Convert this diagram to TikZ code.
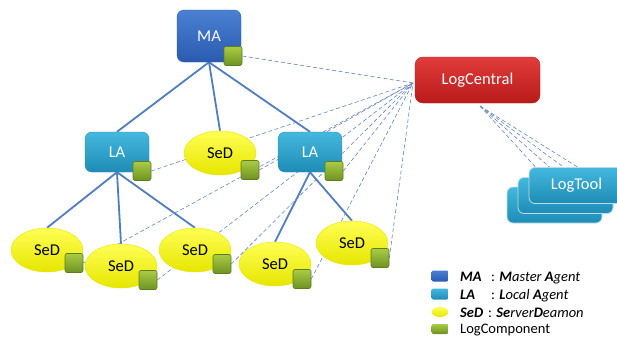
\documentclass[tikz,border=0pt]{standalone}
\usepackage{fontspec}
\setmainfont{Carlito}
\usetikzlibrary{backgrounds,calc,shapes.geometric}
\definecolor{maT}{HTML}{4A80D2}
\definecolor{maB}{HTML}{2A5BB0}
\definecolor{laT}{HTML}{44B8DE}
\definecolor{laB}{HTML}{1E8CB6}
\definecolor{sedT}{HTML}{FFFF55}
\definecolor{sedB}{HTML}{E6E600}
\definecolor{lcT}{HTML}{E23C3C}
\definecolor{lcB}{HTML}{B81A1A}
\definecolor{gT}{HTML}{AACB44}
\definecolor{gB}{HTML}{6E9222}
\definecolor{gD}{HTML}{5E7E1E}
\definecolor{treec}{HTML}{4F7DBF}
\definecolor{dashc}{HTML}{6584C4}
\begin{document}
\begin{tikzpicture}[x=1pt,y=-1pt,
  agent/.style={rectangle, rounded corners=7pt, inner sep=0pt, text=white, font=\fontsize{16.5}{16.5}\selectfont},
  maa/.style={agent, minimum width=64pt, minimum height=52pt, top color=maT, bottom color=maB, draw=maB},
  laa/.style={agent, minimum width=64pt, minimum height=40pt, top color=laT, bottom color=laB, draw=laB},
  sed/.style={ellipse, inner sep=0pt, minimum width=72pt, minimum height=44pt, top color=sedT, bottom color=sedB, draw=sedB, font=\fontsize{16.5}{16.5}\selectfont},
  logc/.style={rectangle, rounded corners=2pt, inner sep=0pt, minimum width=18pt, minimum height=19pt, top color=gT, bottom color=gB, draw=gD, line width=0.6pt},
  lcbox/.style={rectangle, rounded corners=8pt, inner sep=0pt, minimum width=125pt, minimum height=46pt, top color=lcT, bottom color=lcB, draw=lcB, text=white, font=\fontsize{16.5}{16.5}\selectfont},
  ltbox/.style={rectangle, rounded corners=6pt, inner sep=0pt, minimum width=95pt, minimum height=36pt, top color=laT, bottom color=laB, draw=white!70!laB, line width=0.8pt, text=white, font=\fontsize{16.5}{16.5}\selectfont},
  tree/.style={draw=treec, line width=1.8pt},
  logline/.style={draw=dashc, line width=0.6pt, dash pattern=on 4pt off 2.5pt},
  legtext/.style={anchor=west, inner sep=0pt, font=\fontsize{14.5}{14.5}\selectfont}
]
\clip (0,0) rectangle (617,343);

% agents
\node[maa] (MA) at (209,36) {MA};
\node[laa] (LA1) at (117,152) {LA};
\node[laa] (LA2) at (310,152) {LA};
\node[sed] (S0) at (220,153) {SeD};
\node[sed] (S1) at (47,250) {SeD};
\node[sed] (S2) at (121,266) {SeD};
\node[sed] (S3) at (195,250) {SeD};
\node[sed] (S4) at (275,264) {SeD};
\node[sed] (S5) at (352,243) {SeD};

% log components
\node[logc] (gMA) at (233,56) {};
\node[logc] (gLA1) at (142,171) {};
\node[logc] (gS0) at (250,170) {};
\node[logc] (gLA2) at (334,171) {};
\node[logc] (gS1) at (74,263) {};
\node[logc] (gS2) at (148,280) {};
\node[logc] (gS3) at (222,264) {};
\node[logc] (gS4) at (302,279) {};
\node[logc] (gS5) at (380,258) {};

% LogCentral and LogTools
\node[lcbox] (LC) at (477.5,80) {LogCentral};
\coordinate (hub) at (413,83);
\coordinate (hubB) at (480,106);
\node[ltbox] (LT3) at (554.5,205) {};
\node[ltbox] (LT2) at (565.5,195.5) {};
\node[ltbox] (LT1) at (576.5,185.5) {LogTool};

% legend
\node[rectangle, rounded corners=2pt, minimum width=17pt, minimum height=11pt, inner sep=0pt, top color=maT, bottom color=maB] (kMA) at (440,276) {};
\node[rectangle, rounded corners=2pt, minimum width=17pt, minimum height=11pt, inner sep=0pt, top color=laT, bottom color=laB] (kLA) at (440,294) {};
\node[ellipse, minimum width=17pt, minimum height=10pt, inner sep=0pt, top color=sedT, bottom color=sedB] (kSeD) at (440,312) {};
\node[rectangle, rounded corners=2pt, minimum width=17pt, minimum height=10pt, inner sep=0pt, top color=gT, bottom color=gB] (kLog) at (440,329) {};
\node[legtext] (tMA) at (460,278) {\makebox[31pt][l]{\textbf{\textit{MA}}}: \textit{\textbf{M}aster \textbf{A}gent}};
\node[legtext] (tLA) at (460,296) {\makebox[31pt][l]{\textbf{\textit{LA}}}: \textit{\textbf{L}ocal \textbf{A}gent}};
\node[legtext] (tSeD) at (460,313) {\makebox[28pt][l]{\textbf{\textit{SeD}}}: \textit{\textbf{Se}rver\textbf{D}eamon}};
\node[legtext] (tLog) at (460,330) {LogComponent};

\begin{pgfonlayer}{background}
  \fill[white] (0,0) rectangle (617,343);
  % tree
  \draw[tree] (MA.south) -- (LA1.north);
  \draw[tree] (MA.south) -- (S0.north);
  \draw[tree] (MA.south) -- (LA2.north);
  \draw[tree] (LA1.south) -- (S1.north);
  \draw[tree] (LA1.south) -- (S2.north);
  \draw[tree] (LA1.south) -- (S3.north);
  \draw[tree] (LA2.south) -- (S4.north);
  \draw[tree] (LA2.south) -- (S5.north);
  % log lines
  \draw[logline] (gMA.east) -- (hub);
  \draw[logline] (gLA1.east) -- (hub);
  \draw[logline] (gS0.east) -- (hub);
  \draw[logline] (gLA2.east) -- (hub);
  \draw[logline] (gS1.east) -- (hub);
  \draw[logline] (gS2.east) -- (hub);
  \draw[logline] (gS3.east) -- (hub);
  \draw[logline] (gS4.east) -- (hub);
  \draw[logline] (gS5.east) -- (hub);
  \draw[logline] (hubB) -- ($(LT1.north west)+(7,0)$);
  \draw[logline] (hubB) -- ($(LT1.north west)+(21,0)$);
  \draw[logline] (hubB) -- ($(LT1.north west)+(35,0)$);
  \draw[logline] (hubB) -- ($(LT1.north west)+(49,0)$);
\end{pgfonlayer}
\end{tikzpicture}
\end{document}
